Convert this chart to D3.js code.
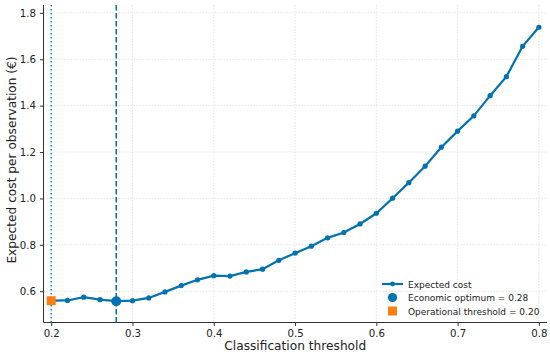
<!DOCTYPE html>
<html lang="en">
<head>
<meta charset="utf-8">
<script src="https://d3js.org/d3.v7.min.js"></script>
<style>
  body { margin: 0; background: #fff; }
  svg text { font-family: "DejaVu Sans", sans-serif; fill: #222; }
</style>
</head>
<body>
<svg width="550" height="356"></svg>
<script>
// thresholds and expected cost per observation
var thresholds = [0.20,0.22,0.24,0.26,0.28,0.30,0.32,0.34,0.36,0.38,0.40,0.42,0.44,0.46,0.48,
                  0.50,0.52,0.54,0.56,0.58,0.60,0.62,0.64,0.66,0.68,0.70,0.72,0.74,0.76,0.78,0.80];
var costs = [0.559,0.560,0.574,0.564,0.557,0.559,0.571,0.597,0.624,0.649,0.667,0.665,0.683,0.695,0.733,
             0.764,0.794,0.830,0.853,0.890,0.936,1.001,1.068,1.139,1.221,1.290,1.356,1.443,1.525,1.656,1.738];
var optimum = {t: 0.28, cost: 0.557};
var operational = {t: 0.20, cost: 0.559};
var xTicks = [0.2,0.3,0.4,0.5,0.6,0.7,0.8];
var yTicks = [0.6,0.8,1.0,1.2,1.4,1.6,1.8];
var legendLabels = ['Expected cost', 'Economic optimum = 0.28', 'Operational threshold = 0.20'];

var blue = '#0072B2', orange = '#FF7F0E';
var svg = d3.select('svg');
var pl = 43.5, pr = 547, pt = 5, pb = 322.5;

var x = d3.scaleLinear().domain([0.1905, 0.81]).range([pl, pr]);
var y = d3.scaleLinear().domain([0.465, 1.834]).range([pb, pt]);

// grid
svg.append('g').selectAll('line').data(xTicks).enter().append('line')
  .attr('x1', d => x(d)).attr('x2', d => x(d)).attr('y1', pt).attr('y2', pb)
  .attr('stroke', '#ddd').attr('stroke-width', 0.8).attr('stroke-dasharray', '1.5,1.5');
svg.append('g').selectAll('line').data(yTicks).enter().append('line')
  .attr('x1', pl).attr('x2', pr).attr('y1', d => y(d)).attr('y2', d => y(d))
  .attr('stroke', '#ddd').attr('stroke-width', 0.8).attr('stroke-dasharray', '1.5,1.5');

// axes
var xAxis = svg.append('g').attr('transform', 'translate(0,' + pb + ')')
  .call(d3.axisBottom(x).tickValues(xTicks).tickFormat(d3.format('.1f')).tickSize(3.5).tickPadding(4));
var yAxis = svg.append('g').attr('transform', 'translate(' + pl + ',0)')
  .call(d3.axisLeft(y).tickValues(yTicks).tickFormat(d3.format('.1f')).tickSize(3.5).tickPadding(4));
[xAxis, yAxis].forEach(function(a) {
  a.select('.domain').attr('stroke', '#333').attr('stroke-width', 1);
  a.selectAll('.tick line').attr('stroke', '#333');
  a.selectAll('.tick text').style('font-size', '10.2px').attr('fill', '#222');
});
xAxis.select('.domain').attr('d', 'M' + pl + ',0H' + pr);
yAxis.select('.domain').attr('d', 'M0,' + pb + 'V' + pt);

svg.append('text').attr('x', (pl + pr) / 2).attr('y', 350)
  .attr('text-anchor', 'middle').style('font-size', '12.2px').text('Classification threshold');
svg.append('text').attr('transform', 'translate(16,160) rotate(-90)')
  .attr('text-anchor', 'middle').style('font-size', '12.2px').text('Expected cost per observation (€)');

// reference lines
svg.append('line').attr('x1', x(operational.t)).attr('x2', x(operational.t))
  .attr('y1', pt).attr('y2', pb)
  .attr('stroke', '#1386C8').attr('stroke-width', 1.5).attr('stroke-dasharray', '1.5,2.5');
svg.append('line').attr('x1', x(optimum.t)).attr('x2', x(optimum.t))
  .attr('y1', pt).attr('y2', pb)
  .attr('stroke', blue).attr('stroke-width', 1.5).attr('stroke-dasharray', '5.5,2.5');

// curve
var pts = thresholds.map((t, i) => [t, costs[i]]);
svg.append('path').datum(pts)
  .attr('d', d3.line().x(d => x(d[0])).y(d => y(d[1])))
  .attr('fill', 'none').attr('stroke', blue).attr('stroke-width', 2.2);
svg.append('g').selectAll('circle').data(pts).enter().append('circle')
  .attr('cx', d => x(d[0])).attr('cy', d => y(d[1])).attr('r', 2.6).attr('fill', blue);

// highlighted points
svg.append('circle').attr('cx', x(optimum.t)).attr('cy', y(optimum.cost)).attr('r', 5).attr('fill', blue);
svg.append('rect').attr('x', x(operational.t) - 4.5).attr('y', y(operational.cost) - 4.5)
  .attr('width', 9).attr('height', 9).attr('fill', orange);

// legend
var lg = svg.append('g').attr('transform', 'translate(382,284)');
lg.append('line').attr('x1', 0).attr('x2', 21).attr('y1', 0).attr('y2', 0).attr('stroke', blue).attr('stroke-width', 2.2);
lg.append('circle').attr('cx', 10.5).attr('cy', 0).attr('r', 2.4).attr('fill', blue);
lg.append('circle').attr('cx', 10.5).attr('cy', 13.5).attr('r', 4.6).attr('fill', blue);
lg.append('rect').attr('x', 6).attr('y', 22.5).attr('width', 9).attr('height', 9).attr('fill', orange);
legendLabels.forEach(function(s, i) {
  lg.append('text').attr('x', 26).attr('y', i * 13.5 + 3.5).style('font-size', '9px').text(s);
});
</script>
</body>
</html>
